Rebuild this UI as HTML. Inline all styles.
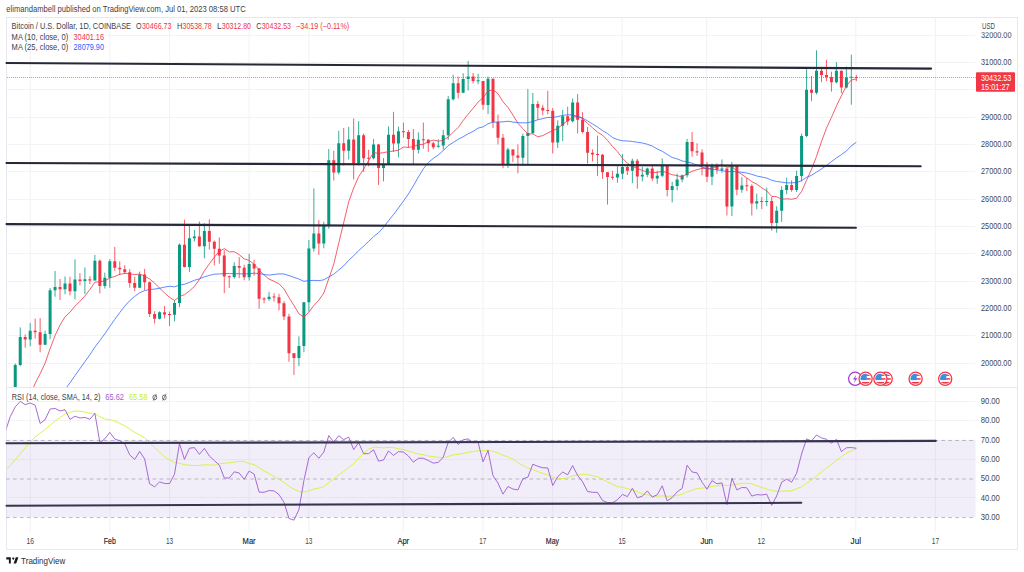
<!DOCTYPE html><html><head><meta charset="utf-8"><style>
html,body{margin:0;padding:0;background:#fff;width:1024px;height:572px;overflow:hidden}
svg{display:block}text{font-family:"Liberation Sans",sans-serif}
</style></head><body>
<svg width="1024" height="572" viewBox="0 0 1024 572">
<defs><clipPath id="cm"><rect x="6.5" y="17.5" width="969.0" height="369.5"/></clipPath>
<clipPath id="cr"><rect x="6.5" y="387.5" width="969.0" height="144.5"/></clipPath></defs>
<text x="6.3" y="12.1" font-size="8.5" fill="#3d404b" textLength="239.4" lengthAdjust="spacingAndGlyphs">elimandambell published on TradingView.com, Jul 01, 2023 08:58 UTC</text>
<rect x="6.5" y="17.5" width="1011" height="532" fill="#fff" stroke="#e6e8ef" stroke-width="1"/>
<path d="M30.30 17.5V387.0M30.30 387.5V532.0M109.87 17.5V387.0M109.87 387.5V532.0M169.54 17.5V387.0M169.54 387.5V532.0M249.11 17.5V387.0M249.11 387.5V532.0M308.79 17.5V387.0M308.79 387.5V532.0M403.27 17.5V387.0M403.27 387.5V532.0M482.84 17.5V387.0M482.84 387.5V532.0M552.46 17.5V387.0M552.46 387.5V532.0M622.09 17.5V387.0M622.09 387.5V532.0M706.63 17.5V387.0M706.63 387.5V532.0M761.33 17.5V387.0M761.33 387.5V532.0M855.82 17.5V387.0M855.82 387.5V532.0M935.39 17.5V387.0M935.39 387.5V532.0M6.5 363.5H975.5M6.5 335.5H975.5M6.5 308.5H975.5M6.5 281.5H975.5M6.5 253.5H975.5M6.5 226.5H975.5M6.5 199.5H975.5M6.5 171.5H975.5M6.5 144.5H975.5M6.5 117.5H975.5M6.5 89.5H975.5M6.5 62.5H975.5M6.5 35.5H975.5M6.5 401.5H975.5M6.5 420.5H975.5M6.5 459.5H975.5M6.5 497.5H975.5" stroke="#f3f3f5" stroke-width="1.1" fill="none"/>
<rect x="6.5" y="440.00" width="969.0" height="77.12" fill="rgb(126,87,194)" fill-opacity="0.1"/>
<path d="M6 387.5H1017.5" stroke="#e6e8ef" stroke-width="1"/>
<path d="M6.3 440.45H975.5M6.3 479.01H975.5M6.3 517.57H975.5" stroke="#787b86" stroke-width="1" stroke-dasharray="3.7 3.28" stroke-dashoffset="0.3" fill="none" opacity="0.5"/>
<g clip-path="url(#cm)">
<path d="M5.30 418.17V436.50M10.27 387.35V420.63M15.25 363.47V398.75M20.23 327.37V366.21M30.18 323.00V346.24M45.11 330.65V344.88M50.09 287.99V339.13M55.06 271.03V296.74M65.02 276.50V294.28M74.97 259.27V299.47M84.92 267.48V294.00M94.88 254.89V280.60M104.83 272.67V288.53M109.81 259.00V287.71M139.67 271.58V288.26M159.57 311.24V319.44M174.50 300.30V321.35M179.48 243.41V307.13M189.43 225.90V271.85M194.41 230.01V241.49M204.36 223.17V258.18M234.22 262.28V278.69M249.15 253.80V280.60M269.06 291.82V300.84M298.92 336.40V366.21M303.90 302.21V352.26M308.88 240.12V311.51M313.85 188.43V251.61M323.81 221.80V248.33M328.78 149.05V228.64M338.74 130.72V174.48M348.69 126.90V159.44M358.64 121.15V165.46M373.57 138.93V159.44M383.53 158.07V181.32M388.50 126.35V164.91M398.46 126.62V157.25M418.36 132.37V153.43M438.27 139.20V147.68M443.25 129.90V149.60M448.22 95.99V139.75M453.20 74.66V100.64M463.15 73.29V93.26M468.13 60.98V90.52M478.08 73.84V84.23M488.04 76.57V114.04M507.94 147.68V167.92M522.87 133.73V166.01M527.85 89.15V165.46M532.83 92.98V134.01M557.71 120.33V147.96M562.69 109.94V141.12M572.64 98.45V122.52M617.43 166.28V182.69M622.41 153.97V179.13M632.36 158.62V183.24M642.31 166.83V181.32M647.29 167.65V177.22M657.24 170.66V183.78M662.22 158.35V177.22M672.17 181.87V202.38M677.15 173.66V190.35M682.13 174.48V182.14M687.10 138.93V177.49M711.99 163.54V185.15M721.94 159.44V172.84M731.89 161.90V216.06M741.85 177.22V192.81M756.78 193.63V209.22M766.73 187.61V206.21M776.68 206.21V232.74M781.66 186.25V221.80M786.64 177.77V194.18M796.59 170.66V191.99M801.57 133.73V181.32M806.55 67.82V137.02M816.50 50.32V94.35M836.41 62.08V83.41M846.36 66.59V88.33M851.34 54.69V104.74" stroke="#089981" stroke-width="1" stroke-opacity="0.8" fill="none"/>
<path d="M25.20 334.48V347.61M35.16 318.62V338.58M40.13 318.07V352.26M60.04 278.96V300.02M69.99 276.77V295.37M79.95 273.22V285.25M89.90 276.23V284.16M99.85 259.54V293.46M114.78 246.96V270.76M119.76 261.46V274.86M124.74 265.29V274.04M129.71 269.12V287.71M134.69 276.77V291.27M144.64 268.84V289.90M149.62 281.42V316.98M154.60 311.24V323.54M164.55 306.04V318.35M169.53 311.51V326.00M184.46 219.61V267.48M199.39 221.53V246.69M209.34 219.34V249.70M214.32 240.67V265.29M219.29 237.39V263.65M224.27 250.24V293.18M229.25 275.41V287.99M239.20 257.08V278.14M244.18 264.74V280.33M254.13 259.82V275.68M259.11 268.02V308.77M264.08 297.01V303.30M274.04 293.18V301.66M279.01 293.73V310.41M283.99 301.12V319.99M288.97 313.70V361.83M293.95 353.08V374.96M318.83 220.16V254.89M333.76 150.69V180.50M343.71 127.99V165.60M353.67 118.42V179.49M363.62 133.46V171.75M368.60 149.87V166.28M378.55 143.85V184.88M393.48 111.85V152.06M403.43 122.52V137.56M408.41 129.90V147.68M413.39 129.08V164.09M423.34 122.52V148.78M428.32 139.20V151.78M433.29 141.66V149.32M458.18 76.57V98.45M473.11 73.02V83.41M483.06 80.95V109.67M493.01 78.49V127.99M497.99 114.59V144.40M502.97 134.01V168.19M512.92 149.32V162.18M517.90 144.40V173.39M537.80 100.91V119.78M542.78 104.74V115.41M547.76 90.79V114.31M552.73 108.02V153.43M567.66 106.66V125.25M577.62 94.08V133.46M582.59 112.13V133.46M587.57 126.90V163.54M592.55 149.32V161.36M597.52 135.65V175.85M602.50 153.97V178.86M607.48 172.16V204.57M612.45 170.93V179.68M627.38 164.64V175.03M637.34 158.90V188.71M652.27 164.91V181.05M667.20 165.60V196.37M692.08 132.09V156.71M697.06 143.31V155.89M702.03 149.32V175.31M707.01 162.18V182.14M716.96 163.27V173.94M726.92 168.19V215.51M736.87 165.46V195.27M746.82 177.77V191.17M751.80 184.33V215.51M761.75 196.91V208.95M771.71 196.91V230.55M791.62 180.23V191.72M811.52 76.03V101.19M821.48 67.27V82.04M826.45 59.81V81.11M831.43 71.65V91.61M841.38 70.56V93.26M856.31 74.96V81.14" stroke="#F23645" stroke-width="1" stroke-opacity="0.8" fill="none"/>
<path d="M3.80 419.46h3v13.76h-3zM8.77 394.65h3v24.81h-3zM13.75 365.11h3v29.54h-3zM18.73 337.11h3v28.01h-3zM28.68 330.79h3v8.59h-3zM43.61 333.91h3v10.78h-3zM48.59 290.26h3v43.65h-3zM53.56 287.08h3v3.17h-3zM63.52 283.45h3v5.72h-3zM73.47 279.51h3v11.71h-3zM83.42 279.13h3v1.78h-3zM93.38 260.83h3v19.58h-3zM103.33 277.73h3v8.18h-3zM108.31 261.13h3v16.60h-3zM138.17 274.53h3v13.13h-3zM158.07 312.27h3v6.48h-3zM173.00 303.03h3v11.68h-3zM177.98 244.83h3v58.20h-3zM187.93 238.32h3v28.69h-3zM192.91 236.51h3v1.81h-3zM202.86 230.91h3v15.34h-3zM232.72 265.94h3v10.94h-3zM247.65 263.97h3v13.32h-3zM267.56 296.74h3v2.30h-3zM297.42 346.02h3v12.06h-3zM302.40 302.21h3v43.81h-3zM307.38 248.41h3v53.80h-3zM312.35 233.40h3v15.02h-3zM322.31 224.95h3v18.60h-3zM327.28 160.18h3v64.76h-3zM337.24 143.36h3v29.18h-3zM347.19 139.61h3v11.16h-3zM357.14 135.29h3v28.06h-3zM372.07 144.56h3v13.68h-3zM382.03 164.42h3v3.53h-3zM387.00 134.83h3v29.59h-3zM396.96 131.33h3v12.28h-3zM416.86 139.81h3v10.06h-3zM436.77 145.77h3v1.09h-3zM441.75 135.21h3v10.39h-3zM446.72 99.14h3v36.07h-3zM451.70 83.30h3v15.84h-3zM461.65 79.06h3v13.70h-3zM466.63 76.41h3v2.65h-3zM476.58 80.20h3v1.00h-3zM486.54 78.84h3v26.04h-3zM506.44 149.43h3v15.15h-3zM521.37 136.06h3v21.63h-3zM526.35 132.91h3v3.15h-3zM531.33 104.11h3v28.80h-3zM556.21 125.77h3v16.77h-3zM561.19 116.23h3v9.55h-3zM571.14 102.39h3v18.84h-3zM615.93 173.66h3v3.91h-3zM620.91 166.99h3v6.67h-3zM630.86 160.67h3v10.12h-3zM640.81 174.76h3v1.72h-3zM645.79 168.47h3v6.29h-3zM655.74 175.83h3v2.68h-3zM660.72 165.60h3v10.23h-3zM670.67 186.08h3v3.88h-3zM675.65 179.44h3v6.65h-3zM680.63 175.36h3v4.08h-3zM685.60 142.08h3v33.28h-3zM710.49 164.94h3v11.76h-3zM720.44 168.50h3v1.20h-3zM730.39 165.46h3v40.92h-3zM740.35 185.48h3v4.35h-3zM755.28 201.23h3v2.19h-3zM765.23 200.91h3v1.01h-3zM775.18 210.70h3v12.31h-3zM780.16 190.05h3v20.65h-3zM785.14 185.07h3v4.98h-3zM795.09 176.02h3v13.92h-3zM800.07 135.98h3v40.04h-3zM805.05 89.65h3v46.33h-3zM815.00 70.80h3v22.02h-3zM834.91 70.80h3v11.49h-3zM844.86 77.47h3v10.04h-3zM849.84 76.70h3v1.00h-3z" fill="#089981"/>
<path d="M23.70 337.11h3v2.27h-3zM33.66 330.79h3v1.42h-3zM38.63 332.21h3v12.47h-3zM58.54 287.08h3v2.08h-3zM68.49 283.45h3v7.77h-3zM78.45 279.51h3v1.39h-3zM88.40 279.13h3v1.29h-3zM98.35 260.83h3v25.08h-3zM113.28 261.13h3v6.65h-3zM118.26 267.78h3v1.59h-3zM123.24 269.36h3v2.87h-3zM128.21 272.23h3v10.78h-3zM133.19 283.01h3v4.65h-3zM143.14 274.53h3v7.63h-3zM148.12 282.16h3v31.89h-3zM153.10 314.05h3v4.70h-3zM163.05 312.27h3v2.16h-3zM168.03 314.07h3v1.00h-3zM182.96 244.83h3v22.18h-3zM197.89 236.51h3v9.74h-3zM207.84 230.91h3v10.94h-3zM212.82 241.85h3v6.89h-3zM217.79 248.74h3v6.70h-3zM222.77 255.44h3v21.09h-3zM227.75 276.21h3v1.00h-3zM237.70 265.94h3v1.81h-3zM242.68 267.75h3v9.55h-3zM252.63 263.97h3v4.46h-3zM257.61 268.43h3v30.39h-3zM262.58 298.43h3v1.00h-3zM272.54 296.53h3v1.00h-3zM277.51 297.31h3v5.85h-3zM282.49 303.17h3v13.43h-3zM287.47 316.60h3v36.68h-3zM292.45 353.27h3v4.81h-3zM317.33 233.40h3v10.15h-3zM332.26 160.18h3v12.36h-3zM342.21 143.36h3v7.41h-3zM352.17 139.61h3v23.74h-3zM362.12 135.29h3v22.97h-3zM367.10 157.78h3v1.00h-3zM377.05 144.56h3v23.38h-3zM391.98 134.83h3v8.78h-3zM401.93 131.18h3v1.00h-3zM406.91 132.04h3v6.92h-3zM411.89 138.96h3v10.91h-3zM421.84 139.14h3v1.00h-3zM426.82 139.75h3v3.56h-3zM431.79 143.31h3v3.83h-3zM456.68 83.30h3v9.46h-3zM471.61 76.41h3v4.59h-3zM481.56 81.08h3v23.79h-3zM491.51 78.84h3v43.05h-3zM496.49 121.89h3v15.81h-3zM501.47 137.70h3v26.89h-3zM511.42 149.43h3v6.07h-3zM516.40 155.50h3v2.19h-3zM536.30 104.11h3v3.72h-3zM541.28 107.83h3v2.57h-3zM546.26 110.04h3v1.00h-3zM551.23 110.68h3v31.86h-3zM566.16 116.23h3v5.01h-3zM576.12 102.39h3v17.31h-3zM581.09 119.70h3v12.33h-3zM586.07 132.04h3v20.65h-3zM591.05 152.69h3v1.81h-3zM596.02 154.12h3v1.00h-3zM601.00 154.74h3v17.42h-3zM605.98 172.16h3v4.84h-3zM610.95 176.79h3v1.00h-3zM625.88 166.99h3v3.80h-3zM635.84 160.67h3v15.81h-3zM650.77 168.47h3v10.04h-3zM665.70 165.60h3v24.37h-3zM690.58 142.08h3v9.27h-3zM695.56 151.35h3v1.20h-3zM700.53 152.55h3v13.21h-3zM705.51 165.76h3v10.94h-3zM715.46 164.94h3v4.76h-3zM725.42 168.50h3v37.88h-3zM735.37 165.46h3v24.37h-3zM745.32 185.27h3v1.00h-3zM750.30 186.05h3v17.37h-3zM760.25 201.08h3v1.00h-3zM770.21 200.91h3v22.10h-3zM790.12 185.07h3v4.87h-3zM810.02 89.65h3v3.17h-3zM819.98 70.80h3v4.29h-3zM824.95 75.10h3v1.81h-3zM829.93 76.90h3v5.39h-3zM839.88 70.80h3v16.71h-3zM854.81 76.90h3v1.00h-3z" fill="#F23645"/>
<polyline points="5.30,443.63 10.27,437.67 15.25,428.75 20.23,417.53 25.20,406.47 30.18,394.89 35.16,383.42 40.13,373.69 45.11,363.05 50.09,348.76 55.06,335.52 60.04,324.97 65.02,316.80 69.99,312.21 74.97,306.23 79.95,301.24 84.92,295.93 89.90,289.50 94.88,282.19 99.85,281.76 104.83,280.82 109.81,278.02 114.78,276.45 119.76,274.27 124.74,273.54 129.71,273.75 134.69,274.61 139.67,274.02 144.64,276.15 149.62,278.96 154.60,283.07 159.57,288.18 164.55,292.85 169.53,297.38 174.50,300.46 179.48,296.64 184.46,294.58 189.43,290.96 194.41,286.39 199.39,279.61 204.36,270.83 209.34,263.79 214.32,257.22 219.29,251.29 224.27,248.64 229.25,251.84 234.22,251.74 239.20,254.68 244.18,258.76 249.15,260.53 254.13,264.28 259.11,269.98 264.08,275.01 269.06,279.14 274.04,281.22 279.01,283.85 283.99,288.91 288.97,297.46 293.95,305.54 298.92,313.75 303.90,317.13 308.88,312.09 313.85,305.52 318.83,300.20 323.81,292.97 328.78,278.67 333.76,264.26 338.74,243.27 343.71,222.54 348.69,201.90 353.67,188.01 358.64,176.70 363.62,169.19 368.60,160.66 373.57,152.62 378.55,153.40 383.53,152.59 388.50,151.74 393.48,151.02 398.46,150.19 403.43,147.06 408.41,147.42 413.39,146.59 418.36,144.74 423.34,144.26 428.32,141.79 433.29,140.06 438.27,141.16 443.25,140.32 448.22,137.10 453.20,132.22 458.18,127.60 463.15,120.52 468.13,114.18 473.11,108.31 478.08,102.02 483.06,97.79 488.04,91.10 493.01,89.77 497.99,93.62 502.97,101.75 507.94,107.42 512.92,115.06 517.90,123.19 522.87,128.70 527.85,133.95 532.83,133.87 537.80,136.77 542.78,135.62 547.76,132.92 552.73,130.72 557.71,128.35 562.69,124.42 567.66,120.78 572.64,117.41 577.62,116.09 582.59,118.88 587.57,123.37 592.55,127.78 597.52,132.18 602.50,135.14 607.48,140.27 612.45,146.40 617.43,151.65 622.41,158.11 627.38,163.21 632.36,166.08 637.34,168.46 642.31,170.48 647.29,171.86 652.27,172.49 657.24,172.37 662.22,171.18 667.20,172.81 672.17,174.71 677.15,175.58 682.13,177.05 687.10,173.61 692.08,171.27 697.06,169.67 702.03,168.40 707.01,168.49 711.99,168.42 716.96,166.39 721.94,164.64 726.92,167.33 731.89,166.34 736.87,171.12 741.85,174.53 746.82,177.88 751.80,181.65 756.78,184.10 761.75,187.80 766.73,190.92 771.71,196.37 776.68,196.80 781.66,199.26 786.64,198.78 791.62,199.23 796.59,198.22 801.57,191.48 806.55,180.32 811.52,169.41 816.50,156.40 821.48,141.61 826.45,128.23 831.43,117.45 836.41,106.03 841.38,95.79 846.36,85.93 851.34,80.03 856.31,78.85" fill="none" stroke="#F23645" stroke-width="1" stroke-opacity="0.8"/>
<polyline points="5.30,449.35 10.27,446.99 15.25,443.17 20.23,438.73 25.20,434.30 30.18,429.54 35.16,424.77 40.13,420.58 45.11,415.94 50.09,409.65 55.06,403.00 60.04,396.25 65.02,389.37 69.99,382.77 74.97,375.63 79.95,368.63 84.92,361.62 89.90,354.67 94.88,347.13 99.85,340.57 104.83,333.81 109.81,326.38 114.78,319.41 119.76,312.58 124.74,306.14 129.71,300.68 134.69,296.40 139.67,292.77 144.64,290.58 149.62,289.56 154.60,289.08 159.57,288.29 164.55,287.08 169.53,286.31 174.50,286.82 179.48,285.13 184.46,284.24 189.43,282.44 194.41,280.25 199.39,278.92 204.36,276.92 209.34,275.43 214.32,274.16 219.29,273.94 224.27,273.57 229.25,273.54 234.22,273.73 239.20,273.73 244.18,274.04 249.15,273.71 254.13,273.13 259.11,273.58 264.08,274.56 269.06,275.14 274.04,274.47 279.01,273.85 283.99,274.02 288.97,275.57 293.95,277.31 298.92,279.03 303.90,281.32 308.88,280.58 313.85,280.38 318.83,280.66 323.81,279.81 328.78,276.98 333.76,274.21 338.74,270.00 343.71,265.81 348.69,260.33 353.67,255.79 358.64,250.57 363.62,246.19 368.60,241.43 373.57,236.65 378.55,232.63 383.53,227.25 388.50,220.69 393.48,214.56 398.46,207.92 403.43,201.08 408.41,193.97 413.39,185.83 418.36,177.10 423.34,168.85 428.32,162.50 433.29,158.44 438.27,154.94 443.25,150.61 448.22,145.57 453.20,142.50 458.18,139.31 463.15,136.74 468.13,133.76 473.11,131.42 478.08,128.10 483.06,126.88 488.04,123.70 493.01,122.25 497.99,121.97 502.97,121.84 507.94,121.24 512.92,122.07 517.90,122.63 522.87,122.82 527.85,122.85 532.83,121.46 537.80,119.78 542.78,118.60 547.76,117.44 552.73,117.41 557.71,116.56 562.69,115.37 567.66,114.81 572.64,114.95 577.62,116.40 582.59,117.97 587.57,120.92 592.55,124.04 597.52,126.99 602.50,130.66 607.48,133.55 612.45,137.49 617.43,139.57 622.41,140.74 627.38,140.99 632.36,141.44 637.34,142.27 642.31,142.96 647.29,144.25 652.27,146.08 657.24,148.95 662.22,151.26 667.20,154.44 672.17,157.45 677.15,158.93 682.13,160.91 687.10,161.95 692.08,163.15 697.06,165.16 702.03,167.00 707.01,168.79 711.99,169.28 716.96,169.89 721.94,170.44 726.92,171.80 731.89,171.34 736.87,171.83 741.85,172.31 746.82,173.07 751.80,174.37 756.78,176.00 761.75,177.01 766.73,178.06 771.71,180.24 776.68,181.53 781.66,182.10 786.64,182.88 791.62,182.87 796.59,182.47 801.57,180.73 806.55,177.31 811.52,175.34 816.50,172.11 821.48,169.01 826.45,165.46 831.43,161.68 836.41,157.92 841.38,154.63 846.36,150.99 851.34,145.81 856.31,142.31" fill="none" stroke="#2962FF" stroke-width="1" stroke-opacity="0.75"/>
</g>
<path d="M7 77.5H976" stroke="#F23645" stroke-width="1" stroke-dasharray="1 1" fill="none" opacity="0.6"/>
<g clip-path="url(#cr)">
<polyline points="5.30,470.49 10.27,465.60 15.25,459.94 20.23,453.68 25.20,447.95 30.18,442.31 35.16,436.83 40.13,433.30 45.11,429.43 50.09,425.23 55.06,420.94 60.04,417.46 65.02,414.08 69.99,412.16 74.97,411.05 79.95,411.15 84.92,411.91 89.90,413.19 94.88,413.81 99.85,416.63 104.83,419.03 109.81,419.66 114.78,421.05 119.76,423.31 124.74,425.83 129.71,428.97 134.69,432.51 139.67,434.80 144.64,437.85 149.62,442.55 154.60,447.50 159.57,451.98 164.55,456.99 169.53,459.93 174.50,462.46 179.48,463.25 184.46,464.70 189.43,465.24 194.41,465.51 199.39,465.47 204.36,464.69 209.34,465.01 214.32,465.12 219.29,463.78 224.27,463.15 229.25,462.88 234.22,462.04 239.20,461.28 244.18,461.65 249.15,463.62 254.13,464.67 259.11,467.81 264.08,471.00 269.06,473.59 274.04,476.62 279.01,479.38 283.99,482.37 288.97,486.18 293.95,489.20 298.92,491.46 303.90,492.08 308.88,490.99 313.85,489.09 318.83,488.19 323.81,486.61 328.78,482.57 333.76,478.98 338.74,475.07 343.71,471.41 348.69,467.30 353.67,463.54 358.64,458.12 363.62,453.37 368.60,449.37 373.57,447.17 378.55,447.42 383.53,447.94 388.50,447.41 393.48,447.65 398.46,448.80 403.43,449.51 408.41,450.96 413.39,452.57 418.36,454.08 423.34,454.69 428.32,455.97 433.29,456.65 438.27,457.27 443.25,457.79 448.22,456.46 453.20,454.83 458.18,454.37 463.15,453.25 468.13,452.34 473.11,451.68 478.08,450.71 483.06,450.68 488.04,450.12 493.01,451.36 497.99,452.97 502.97,455.19 507.94,456.91 512.92,459.19 517.90,462.59 522.87,465.54 527.85,467.88 532.83,469.63 537.80,471.58 542.78,473.37 547.76,475.19 552.73,476.89 557.71,478.77 562.69,478.50 567.66,477.91 572.64,475.88 577.62,475.08 582.59,474.57 587.57,474.67 592.55,475.64 597.52,476.73 602.50,479.32 607.48,481.92 612.45,484.42 617.43,486.70 622.41,487.33 627.38,488.75 632.36,489.92 637.34,491.55 642.31,493.74 647.29,494.85 652.27,495.95 657.24,496.18 662.22,495.72 667.20,496.33 672.17,496.12 677.15,495.35 682.13,494.32 687.10,491.85 692.08,490.25 697.06,488.56 702.03,488.11 707.01,487.50 711.99,486.38 716.96,485.87 721.94,484.85 726.92,485.55 731.89,485.01 736.87,484.22 741.85,483.51 746.82,483.21 751.80,483.77 756.78,485.86 761.75,487.51 766.73,489.03 771.71,490.68 776.68,491.16 781.66,491.28 786.64,490.95 791.62,490.90 796.59,488.67 801.57,486.94 806.55,483.29 811.52,479.97 816.50,476.20 821.48,472.05 826.45,468.09 831.43,464.40 836.41,460.48 841.38,456.64 846.36,453.20 851.34,450.72 856.31,448.52" fill="none" stroke="#D5F23A" stroke-width="0.9"/>
<polyline points="5.30,431.77 10.27,416.56 15.25,406.85 20.23,401.33 25.20,404.65 30.18,403.03 35.16,405.22 40.13,423.45 45.11,419.70 50.09,409.04 55.06,408.46 60.04,410.97 65.02,409.74 69.99,419.48 74.97,416.22 79.95,417.98 84.92,417.44 89.90,419.26 94.88,413.36 99.85,442.44 104.83,438.86 109.81,432.34 114.78,439.07 119.76,440.71 124.74,443.77 129.71,454.86 134.69,459.40 139.67,451.44 144.64,458.93 149.62,483.80 154.60,486.80 159.57,481.93 164.55,483.46 169.53,483.66 174.50,474.19 179.48,443.49 184.46,459.32 189.43,448.24 194.41,447.60 199.39,454.35 204.36,448.39 209.34,455.94 214.32,460.57 219.29,465.04 224.27,477.90 229.25,478.11 234.22,471.81 239.20,473.00 244.18,479.28 249.15,471.05 254.13,474.13 259.11,492.15 264.08,492.27 269.06,490.57 274.04,490.92 279.01,494.56 283.99,502.34 288.97,518.44 293.95,520.15 298.92,509.70 303.90,480.55 308.88,457.71 313.85,452.78 318.83,458.32 323.81,452.07 328.78,435.61 333.76,442.04 338.74,435.75 343.71,439.64 348.69,437.15 353.67,449.59 358.64,442.64 363.62,453.66 368.60,453.68 373.57,449.77 378.55,461.17 383.53,460.01 388.50,450.96 393.48,455.40 398.46,451.65 403.43,452.04 408.41,456.01 413.39,462.19 418.36,458.27 423.34,458.24 428.32,460.54 433.29,463.10 438.27,462.41 443.25,457.10 448.22,442.43 453.20,437.32 458.18,444.44 463.15,439.79 468.13,438.91 473.11,442.69 478.08,442.45 483.06,461.80 488.04,450.39 493.01,475.71 497.99,483.09 502.97,494.11 507.94,486.51 512.92,489.03 517.90,489.97 522.87,478.74 527.85,477.19 532.83,464.21 537.80,466.27 542.78,467.76 547.76,467.93 552.73,485.50 557.71,476.71 562.69,472.02 567.66,474.82 572.64,465.60 577.62,475.40 582.59,481.81 587.57,491.49 592.55,492.30 597.52,492.41 602.50,500.48 607.48,502.60 612.45,502.86 617.43,499.74 622.41,494.41 627.38,496.59 632.36,488.35 637.34,497.71 642.31,496.26 647.29,490.91 652.27,497.18 657.24,494.76 662.22,485.82 667.20,500.91 672.17,497.56 677.15,491.85 682.13,488.38 687.10,465.26 692.08,471.98 697.06,472.85 702.03,482.17 707.01,489.16 711.99,480.58 716.96,483.77 721.94,482.84 726.92,504.57 731.89,478.21 736.87,489.95 741.85,487.50 746.82,487.78 751.80,496.08 756.78,494.63 761.75,494.97 766.73,494.21 771.71,505.29 776.68,495.93 781.66,482.18 786.64,479.14 791.62,482.11 796.59,473.39 801.57,453.98 806.55,438.93 811.52,441.00 816.50,435.00 821.48,437.93 826.45,439.22 831.43,443.21 836.41,439.35 841.38,451.57 846.36,447.75 851.34,447.54 856.31,448.29" fill="none" stroke="#9C5ACF" stroke-width="0.9"/>
</g>
<path d="M6.5 63.0L931.1 68.6" stroke="#262938" stroke-width="2.1" stroke-linecap="round"/>
<path d="M6.5 163.0L920.7 166.2" stroke="#262938" stroke-width="2.1" stroke-linecap="round"/>
<path d="M6.5 224.1L855.9 227.75" stroke="#262938" stroke-width="2.1" stroke-linecap="round"/>
<path d="M6.5 443.3L935.7 440.9" stroke="#353550" stroke-width="2.1" stroke-linecap="round"/>
<path d="M6.5 505.7L801.3 502.8" stroke="#353550" stroke-width="2.1" stroke-linecap="round"/>
<text x="11.6" y="29" font-size="8.6" fill="#3d404b" textLength="119.4" lengthAdjust="spacingAndGlyphs">Bitcoin / U.S. Dollar, 1D, COINBASE</text>
<text x="136" y="29" font-size="8.6" fill="#3d404b" textLength="5.6" lengthAdjust="spacingAndGlyphs">O</text>
<text x="141.9" y="29" font-size="8.6" fill="#F23645" textLength="29.5" lengthAdjust="spacingAndGlyphs">30466.73</text>
<text x="176.9" y="29" font-size="8.6" fill="#3d404b" textLength="5.4" lengthAdjust="spacingAndGlyphs">H</text>
<text x="182.5" y="29" font-size="8.6" fill="#F23645" textLength="29.2" lengthAdjust="spacingAndGlyphs">30538.78</text>
<text x="217" y="29" font-size="8.6" fill="#3d404b" textLength="4.6" lengthAdjust="spacingAndGlyphs">L</text>
<text x="221.8" y="29" font-size="8.6" fill="#F23645" textLength="29.2" lengthAdjust="spacingAndGlyphs">30312.80</text>
<text x="256.2" y="29" font-size="8.6" fill="#3d404b" textLength="5.3" lengthAdjust="spacingAndGlyphs">C</text>
<text x="261.7" y="29" font-size="8.6" fill="#F23645" textLength="29.3" lengthAdjust="spacingAndGlyphs">30432.53</text>
<text x="296" y="29" font-size="8.6" fill="#F23645" textLength="53.2" lengthAdjust="spacingAndGlyphs">−34.19 (−0.11%)</text>
<text x="11.6" y="39.6" font-size="8.6" fill="#3d404b" textLength="56.6" lengthAdjust="spacingAndGlyphs">MA (10, close, 0)</text>
<text x="73.5" y="39.6" font-size="8.6" fill="#F23645" textLength="30.5" lengthAdjust="spacingAndGlyphs">30401.16</text>
<text x="11.6" y="50.2" font-size="8.6" fill="#3d404b" textLength="56.6" lengthAdjust="spacingAndGlyphs">MA (25, close, 0)</text>
<text x="73.5" y="50.2" font-size="8.6" fill="#2962FF" textLength="30.5" lengthAdjust="spacingAndGlyphs">28079.90</text>
<text x="11.8" y="400" font-size="8.6" fill="#3d404b" textLength="88.6" lengthAdjust="spacingAndGlyphs">RSI (14, close, SMA, 14, 2)</text>
<text x="105.3" y="400" font-size="8.6" fill="#A05CD0" textLength="18.7" lengthAdjust="spacingAndGlyphs">65.62</text>
<text x="129" y="400" font-size="8.6" fill="#C8EC30" textLength="18.5" lengthAdjust="spacingAndGlyphs">65.58</text>
<ellipse cx="154.8" cy="397.4" rx="1.9" ry="2.4" fill="none" stroke="#434651" stroke-width="0.75"/>
<path d="M153.20000000000002 400.6L156.4 394.2" stroke="#434651" stroke-width="0.7"/>
<ellipse cx="164.3" cy="397.4" rx="1.9" ry="2.4" fill="none" stroke="#434651" stroke-width="0.75"/>
<path d="M162.70000000000002 400.6L165.9 394.2" stroke="#434651" stroke-width="0.7"/>
<text x="981" y="365.80" font-size="8.6" fill="#434651" textLength="30.5" lengthAdjust="spacingAndGlyphs">20000.00</text>
<text x="981" y="338.45" font-size="8.6" fill="#434651" textLength="30.5" lengthAdjust="spacingAndGlyphs">21000.00</text>
<text x="981" y="311.10" font-size="8.6" fill="#434651" textLength="30.5" lengthAdjust="spacingAndGlyphs">22000.00</text>
<text x="981" y="283.75" font-size="8.6" fill="#434651" textLength="30.5" lengthAdjust="spacingAndGlyphs">23000.00</text>
<text x="981" y="256.40" font-size="8.6" fill="#434651" textLength="30.5" lengthAdjust="spacingAndGlyphs">24000.00</text>
<text x="981" y="229.05" font-size="8.6" fill="#434651" textLength="30.5" lengthAdjust="spacingAndGlyphs">25000.00</text>
<text x="981" y="201.70" font-size="8.6" fill="#434651" textLength="30.5" lengthAdjust="spacingAndGlyphs">26000.00</text>
<text x="981" y="174.35" font-size="8.6" fill="#434651" textLength="30.5" lengthAdjust="spacingAndGlyphs">27000.00</text>
<text x="981" y="147.00" font-size="8.6" fill="#434651" textLength="30.5" lengthAdjust="spacingAndGlyphs">28000.00</text>
<text x="981" y="119.65" font-size="8.6" fill="#434651" textLength="30.5" lengthAdjust="spacingAndGlyphs">29000.00</text>
<text x="981" y="64.95" font-size="8.6" fill="#434651" textLength="30.5" lengthAdjust="spacingAndGlyphs">31000.00</text>
<text x="981" y="37.60" font-size="8.6" fill="#434651" textLength="30.5" lengthAdjust="spacingAndGlyphs">32000.00</text>
<text x="980.7" y="404.04" font-size="8.6" fill="#434651" textLength="19.2" lengthAdjust="spacingAndGlyphs">90.00</text>
<text x="980.7" y="423.32" font-size="8.6" fill="#434651" textLength="19.2" lengthAdjust="spacingAndGlyphs">80.00</text>
<text x="980.7" y="442.60" font-size="8.6" fill="#434651" textLength="19.2" lengthAdjust="spacingAndGlyphs">70.00</text>
<text x="980.7" y="461.88" font-size="8.6" fill="#434651" textLength="19.2" lengthAdjust="spacingAndGlyphs">60.00</text>
<text x="980.7" y="481.16" font-size="8.6" fill="#434651" textLength="19.2" lengthAdjust="spacingAndGlyphs">50.00</text>
<text x="980.7" y="501.14" font-size="8.6" fill="#434651" textLength="19.2" lengthAdjust="spacingAndGlyphs">40.00</text>
<text x="980.7" y="519.72" font-size="8.6" fill="#434651" textLength="19.2" lengthAdjust="spacingAndGlyphs">30.00</text>
<rect x="977" y="18" width="40" height="14.3" fill="#fff"/>
<text x="982" y="28.9" font-size="8.8" fill="#434651" textLength="12.9" lengthAdjust="spacingAndGlyphs">USD</text>
<rect x="976" y="72.2" width="39" height="19.5" rx="1" fill="#F23645"/>
<text x="981" y="80.6" font-size="8.6" fill="#fff" textLength="30.3" lengthAdjust="spacingAndGlyphs">30432.53</text>
<text x="981" y="89.6" font-size="8.6" fill="#fff" textLength="28.7" lengthAdjust="spacingAndGlyphs">15:01:27</text>
<text x="26.60" y="543.6" font-size="8.6" fill="#434651" textLength="7.4" lengthAdjust="spacingAndGlyphs">16</text>
<text x="103.87" y="543.6" font-size="8.6" fill="#1e222d" textLength="12.0" lengthAdjust="spacingAndGlyphs" stroke="#1e222d" stroke-width="0.15">Feb</text>
<text x="165.94" y="543.6" font-size="8.6" fill="#434651" textLength="7.2" lengthAdjust="spacingAndGlyphs">13</text>
<text x="242.61" y="543.6" font-size="8.6" fill="#1e222d" textLength="13.0" lengthAdjust="spacingAndGlyphs" stroke="#1e222d" stroke-width="0.15">Mar</text>
<text x="305.19" y="543.6" font-size="8.6" fill="#434651" textLength="7.2" lengthAdjust="spacingAndGlyphs">13</text>
<text x="397.42" y="543.6" font-size="8.6" fill="#1e222d" textLength="11.7" lengthAdjust="spacingAndGlyphs" stroke="#1e222d" stroke-width="0.15">Apr</text>
<text x="479.34" y="543.6" font-size="8.6" fill="#434651" textLength="7.0" lengthAdjust="spacingAndGlyphs">17</text>
<text x="545.81" y="543.6" font-size="8.6" fill="#1e222d" textLength="13.3" lengthAdjust="spacingAndGlyphs" stroke="#1e222d" stroke-width="0.15">May</text>
<text x="618.39" y="543.6" font-size="8.6" fill="#434651" textLength="7.4" lengthAdjust="spacingAndGlyphs">15</text>
<text x="700.38" y="543.6" font-size="8.6" fill="#1e222d" textLength="12.5" lengthAdjust="spacingAndGlyphs" stroke="#1e222d" stroke-width="0.15">Jun</text>
<text x="757.53" y="543.6" font-size="8.6" fill="#434651" textLength="7.6" lengthAdjust="spacingAndGlyphs">12</text>
<text x="850.62" y="543.6" font-size="8.6" fill="#1e222d" textLength="10.4" lengthAdjust="spacingAndGlyphs" stroke="#1e222d" stroke-width="0.15">Jul</text>
<text x="931.79" y="543.6" font-size="8.6" fill="#434651" textLength="7.2" lengthAdjust="spacingAndGlyphs">17</text>
<circle cx="855.2" cy="378.8" r="6.6" fill="#fff" stroke="#A23BD0" stroke-width="1.25"/>
<path d="M856.2 374.8l-3.2 4.6h2.2l-1.3 3.6 3.5-4.8h-2.2z" fill="#A23BD0"/>
<circle cx="865.6" cy="378.8" r="6.6" fill="#fff" stroke="#F23645" stroke-width="1.25"/><clipPath id="fc8656"><circle cx="865.6" cy="378.8" r="5.2"/></clipPath><g clip-path="url(#fc8656)"><rect x="865.60" y="374.50" width="6" height="1.4" fill="#F23645"/><rect x="865.60" y="378.20" width="6" height="1.5" fill="#F23645"/><rect x="860.10" y="381.90" width="11" height="1.7" fill="#F23645"/><rect x="860.10" y="373.50" width="6.6" height="6.6" fill="#3d8fe6"/></g>
<circle cx="885.7" cy="378.8" r="6.6" fill="#fff" stroke="#F23645" stroke-width="1.25"/><clipPath id="fc8857"><circle cx="885.7" cy="378.8" r="5.2"/></clipPath><g clip-path="url(#fc8857)"><rect x="885.70" y="374.50" width="6" height="1.4" fill="#F23645"/><rect x="885.70" y="378.20" width="6" height="1.5" fill="#F23645"/><rect x="880.20" y="381.90" width="11" height="1.7" fill="#F23645"/><rect x="880.20" y="373.50" width="6.6" height="6.6" fill="#3d8fe6"/></g>
<circle cx="880.4" cy="378.8" r="6.6" fill="#fff" stroke="#F23645" stroke-width="1.25"/><clipPath id="fc8804"><circle cx="880.4" cy="378.8" r="5.2"/></clipPath><g clip-path="url(#fc8804)"><rect x="880.40" y="374.50" width="6" height="1.4" fill="#F23645"/><rect x="880.40" y="378.20" width="6" height="1.5" fill="#F23645"/><rect x="874.90" y="381.90" width="11" height="1.7" fill="#F23645"/><rect x="874.90" y="373.50" width="6.6" height="6.6" fill="#3d8fe6"/></g>
<circle cx="915.6" cy="378.8" r="6.6" fill="#fff" stroke="#F23645" stroke-width="1.25"/><clipPath id="fc9156"><circle cx="915.6" cy="378.8" r="5.2"/></clipPath><g clip-path="url(#fc9156)"><rect x="915.60" y="374.50" width="6" height="1.4" fill="#F23645"/><rect x="915.60" y="378.20" width="6" height="1.5" fill="#F23645"/><rect x="910.10" y="381.90" width="11" height="1.7" fill="#F23645"/><rect x="910.10" y="373.50" width="6.6" height="6.6" fill="#3d8fe6"/></g>
<circle cx="945.2" cy="378.8" r="6.6" fill="#fff" stroke="#F23645" stroke-width="1.25"/><clipPath id="fc9452"><circle cx="945.2" cy="378.8" r="5.2"/></clipPath><g clip-path="url(#fc9452)"><rect x="945.20" y="374.50" width="6" height="1.4" fill="#F23645"/><rect x="945.20" y="378.20" width="6" height="1.5" fill="#F23645"/><rect x="939.70" y="381.90" width="11" height="1.7" fill="#F23645"/><rect x="939.70" y="373.50" width="6.6" height="6.6" fill="#3d8fe6"/></g>
<g fill="#131722"><path d="M6.3 557.3H10.8V563.4H8.9V559.6H6.3Z"/><circle cx="13.3" cy="558.6" r="1.15"/><path d="M15.8 557.3H18.4L16.2 563.4H13.6Z"/></g>
<text x="21.1" y="563.9" font-size="8.4" fill="#2a2e39" textLength="44.2" lengthAdjust="spacingAndGlyphs">TradingView</text>
</svg></body></html>
